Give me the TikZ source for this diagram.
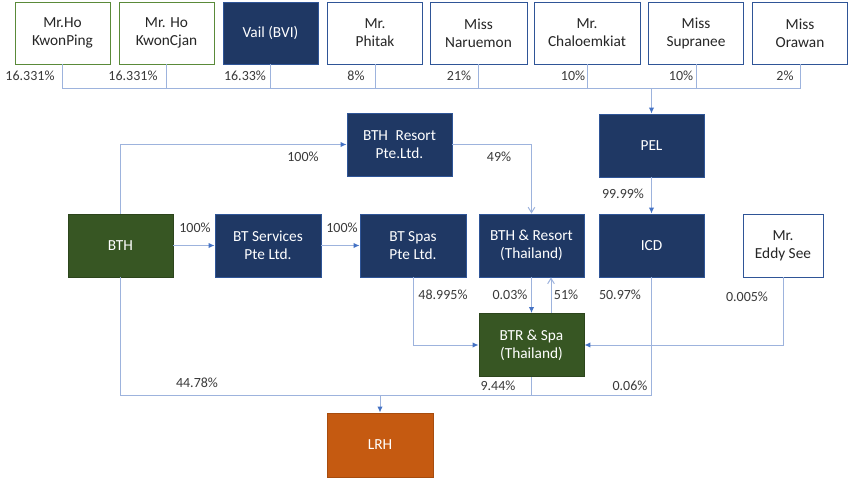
\documentclass[tikz,border=0pt]{standalone}
\usepackage{fontspec}
\setmainfont{Carlito}
\usetikzlibrary{arrows.meta,calc}
\definecolor{navyc}{HTML}{1F3864}
\definecolor{navyb}{HTML}{2F5597}
\definecolor{greenc}{HTML}{375623}
\definecolor{greenb}{HTML}{70AD47}
\definecolor{orangec}{HTML}{C55A11}
\definecolor{linec}{HTML}{9DB3DD}
\definecolor{tipc}{HTML}{4472C4}
\definecolor{labc}{HTML}{3A3A3A}
\tikzset{
  bx/.style={rectangle, align=center, inner sep=1pt, line width=0.7pt,
    font=\fontsize{11.5}{13.5}\selectfont, minimum width=78.75pt, minimum height=47.25pt},
  topbx/.style={bx, minimum width=71.25pt, minimum height=46.5pt, fill=white, text=black!85},
  wblue/.style={topbx, draw=navyb},
  wgreen/.style={topbx, draw=greenb!80!black},
  navybox/.style={bx, fill=navyc, draw=navyb, text=white},
  greenbox/.style={bx, fill=greenc, draw=greenc!80!black, text=white},
  orangebox/.style={bx, fill=orangec, draw=orangec!85!black, text=white},
  conn/.style={draw=linec, line width=0.75pt},
  arr/.style={conn, -{Latex[length=4.5pt,width=4pt,color=tipc]}},
  oarr/.style={conn, -{Straight Barb[length=4pt,width=5pt]}},
  lab/.style={font=\fontsize{10.5}{12}\selectfont, text=labc, inner sep=0pt}
}
\begin{document}
\begin{tikzpicture}[x=0.75pt,y=-0.75pt]
\useasboundingbox[fill=white] (0,0) rectangle (850,478);
% top owners
\node[wgreen] (h1) at (62.5,33) {Mr.Ho\\KwonPing};
\node[wgreen] (h2) at (166.5,33) {Mr. Ho\\KwonCjan};
\node[navybox, minimum width=71.25pt, minimum height=46.5pt] (vail) at (270.5,33) {Vail (BVI)};
\node[wblue] (phitak) at (375,33) {Mr.\\Phitak};
\node[wblue, minimum width=72.75pt] (naruemon) at (478.5,33) {Miss\\Naruemon};
\node[wblue, minimum width=79.5pt] (chaloem) at (587,33) {Mr.\\Chaloemkiat};
\node[wblue] (supranee) at (696,33) {Miss\\Supranee};
\node[wblue] (orawan) at (800,33) {Miss\\Orawan};
% middle
\node[navybox] (bthr) at (399.5,144.5) {BTH\enspace Resort\\Pte.Ltd.};
\node[navybox] (pel) at (651.5,145.5) {PEL};
\node[greenbox] (bth) at (120.5,245.5) {BTH};
\node[navybox, minimum width=79.5pt] (bts) at (268,245.5) {BT Services\\Pte Ltd.};
\node[navybox, minimum width=79.5pt] (btspas) at (413,245.5) {BT Spas\\Pte Ltd.};
\node[navybox] (bthrt) at (531.5,245.5) {BTH \& Resort\\(Thailand)};
\node[navybox] (icd) at (651.5,245.5) {ICD};
\node[bx, fill=white, draw=navyb, text=black!85, minimum width=60pt] (eddy) at (783,245.5) {Mr.\\Eddy See};
\node[greenbox] (btr) at (531.5,345) {BTR \& Spa\\(Thailand)};
\node[orangebox, minimum width=79.5pt, minimum height=48pt] (lrh) at (380,445) {LRH};
% top bus
\coordinate (busT) at (0,89);
\foreach \n in {h1,h2,vail,phitak,naruemon,chaloem,supranee,orawan}
  \draw[conn] (\n.south) -- (\n.south |- busT);
\draw[conn] (h1.south |- busT) -- (orawan.south |- busT);
\draw[arr] (pel.north |- busT) -- (pel.north);
% middle connectors
\draw[arr] (bth.north) |- (bthr.west);
\draw[arr] (bth.east) -- (bts.west);
\draw[arr] (bts.east) -- (btspas.west);
\draw[oarr] (bthr.east) -| (bthrt.north);
\draw[arr] (pel.south) -- (icd.north);
\draw[arr] (bthrt.south) -- (btr.north);
\draw[oarr] ($(btr.north)+(19.5,0)$) -- ($(bthrt.south)+(19.5,0)$);
\draw[arr] (btspas.south) |- (btr.west);
\draw[arr] (eddy.south) |- (btr.east);
% bottom bus
\coordinate (busB) at (380,395);
\draw[conn] (bth.south) |- (busB);
\draw[conn] (btr.south) |- (busB);
\draw[conn] (icd.south) |- (busB);
\draw[arr] (busB) -- (lrh.north);
% labels
\node[lab] (l1) at (30,76) {16.331\%};
\node[lab] (l2) at (133,76) {16.331\%};
\node[lab] (l3) at (245,76) {16.33\%};
\node[lab] (l4) at (356,76) {8\%};
\node[lab] (l5) at (459,76) {21\%};
\node[lab] (l6) at (573,76) {10\%};
\node[lab] (l7) at (681,76) {10\%};
\node[lab] (l8) at (785,76) {2\%};
\node[lab] (m1) at (303,157) {100\%};
\node[lab] (m2) at (499,157) {49\%};
\node[lab] (m3) at (195,228) {100\%};
\node[lab] (m4) at (342,228) {100\%};
\node[lab] (m5) at (623,194) {99.99\%};
\node[lab] (b1) at (443,295) {48.995\%};
\node[lab] (b2) at (510,295) {0.03\%};
\node[lab] (b3) at (566,295) {51\%};
\node[lab] (b4) at (620,295) {50.97\%};
\node[lab] (b5) at (747,297) {0.005\%};
\node[lab] (b6) at (197,383) {44.78\%};
\node[lab] (b7) at (498,386) {9.44\%};
\node[lab] (b8) at (630,386) {0.06\%};
\end{tikzpicture}
\end{document}
